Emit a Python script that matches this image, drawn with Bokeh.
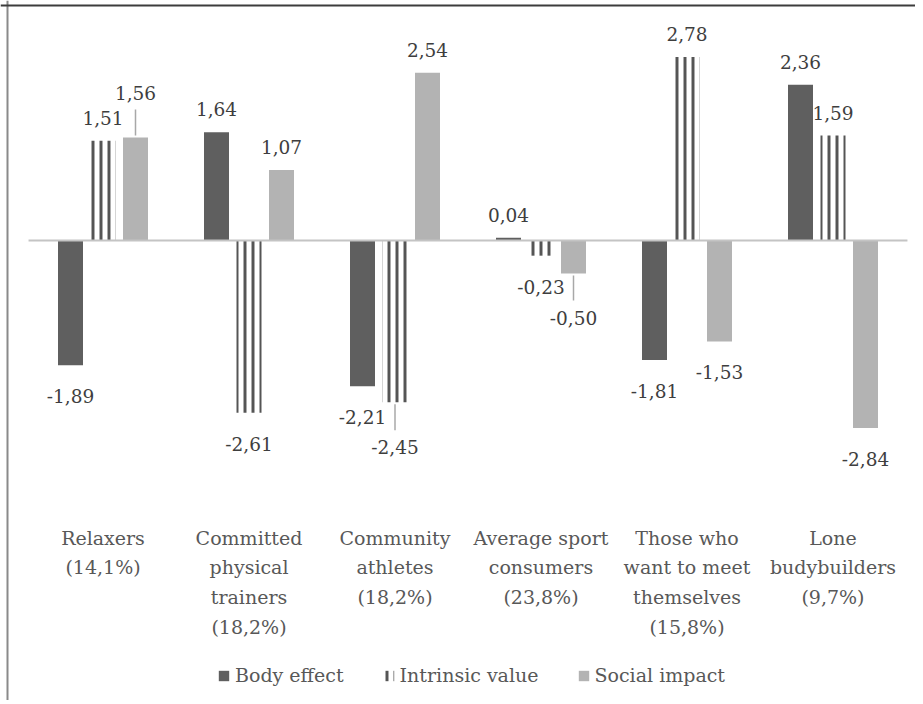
from bokeh.plotting import figure
from bokeh.models import Range1d, ColumnDataSource, Legend, LegendItem, Span
from bokeh.transform import dodge
from bokeh.core.properties import value
from bokeh.embed import file_html
from bokeh.resources import INLINE

# ---------------- data ----------------
categories = [
    "Relaxers",
    "Committed physical trainers",
    "Community athletes",
    "Average sport consumers",
    "Those who want to meet themselves",
    "Lone budybuilders",
]
category_labels = [
    "Relaxers\n(14,1%)",
    "Committed\nphysical\ntrainers\n(18,2%)",
    "Community\nathletes\n(18,2%)",
    "Average sport\nconsumers\n(23,8%)",
    "Those who\nwant to meet\nthemselves\n(15,8%)",
    "Lone\nbudybuilders\n(9,7%)",
]
series_names = ["Body effect", "Intrinsic value", "Social impact"]
body_effect = [-1.89, 1.64, -2.21, 0.04, -1.81, 2.36]
intrinsic_value = [1.51, -2.61, -2.45, -0.23, 2.78, 1.59]
social_impact = [1.56, 1.07, 2.54, -0.50, -1.53, -2.84]

# ---------------- layout ----------------
W, H = 915, 700
PX_X = 146.0      # pixels per category
PX_Y = 66.0       # pixels per unit
ZERO_Y = 240.0    # zero line, px from top of canvas
FIRST_X = 102.5   # centre of first group, px from left
x_start = -FIRST_X / PX_X
x_end = x_start + W / PX_X
y_end = ZERO_Y / PX_Y
y_start = y_end - H / PX_Y

FONT_NAME = "DejaVu Serif"
FONT = value(FONT_NAME)

p = figure(width=W, height=H,
           x_range=Range1d(x_start, x_end), y_range=Range1d(y_start, y_end),
           output_backend="svg", toolbar_location=None,
           x_axis_type=None, y_axis_type=None, min_border=0,
           outline_line_color=None, background_fill_color="white",
           border_fill_color="white")

idx = list(range(len(categories)))
BAR_W = 25 / PX_X
STEP = 32.5 / PX_X
offsets = [-STEP, 0.0, STEP]

src = ColumnDataSource(dict(x=idx, body=body_effect,
                            intrinsic=intrinsic_value, social=social_impact))

r_body = p.vbar(x=dodge("x", offsets[0]), top="body", bottom=0, width=BAR_W,
                source=src, fill_color="#5f5f5f", line_color=None)
r_intr = p.vbar(x=dodge("x", offsets[1]), top="intrinsic", bottom=0, width=BAR_W,
                source=src, fill_color="white", line_color=None,
                hatch_pattern="vertical_line", hatch_color="#555555",
                hatch_weight=3, hatch_scale=8)
r_soc = p.vbar(x=dodge("x", offsets[2]), top="social", bottom=0, width=BAR_W,
               source=src, fill_color="#b3b3b3", line_color=None)

# zero line
p.segment(x0=[idx[0] - 0.51], y0=[0], x1=[idx[-1] + 0.51], y1=[0],
          line_color="#c4c4c4", line_width=2)

# ---------------- data labels ----------------
series = [body_effect, intrinsic_value, social_impact]
special = {(0, 2): 45, (2, 1): 45, (3, 2): 44}   # labels moved away with leader lines
lx, ly, lt, lyo = [], [], [], []
sx0, sy0, sy1 = [], [], []
for si, vals in enumerate(series):
    for i, v in enumerate(vals):
        x = i + offsets[si]
        pos = v >= 0
        d = special.get((i, si), 23 if pos else 31)
        lx.append(x)
        ly.append(v)
        lt.append(f"{v:.2f}".replace(".", ","))
        lyo.append(-d if pos else d)
        if (i, si) in special:
            sgn = 1 if pos else -1
            sx0.append(x)
            sy0.append(v + sgn * 2 / PX_Y)
            sy1.append(v + sgn * (d - 17) / PX_Y)

lab_src = ColumnDataSource(dict(x=lx, y=ly, t=lt, yo=lyo))
p.segment(x0=sx0, y0=sy0, x1=sx0, y1=sy1, line_color="#a8a8a8", line_width=1.5)
p.text(x="x", y="y", text="t", y_offset="yo", source=lab_src,
       text_align="center", text_baseline="middle", text_font=FONT,
       text_font_size="18.5px", text_color="#3e3e3e")

# ---------------- category labels ----------------
LABEL_Y = (ZERO_Y - 526) / PX_Y
p.text(x=idx, y=[LABEL_Y] * len(idx), text=category_labels,
       text_align="center", text_baseline="top", text_line_height=1.36,
       text_font=FONT, text_font_size="19px", text_color="#585858")

# ---------------- border (left / top) ----------------
p.add_layout(Span(location=x_start + 7 / PX_X, dimension="height",
                  line_color="#8a8a8a", line_width=2))
p.add_layout(Span(location=y_end - 5 / PX_Y, dimension="width",
                  line_color="#3c3c3c", line_width=2))

# ---------------- legend ----------------
legend = Legend(items=[LegendItem(label=n, renderers=[r])
                       for n, r in zip(series_names, [r_body, r_intr, r_soc])],
                orientation="horizontal", location=(217, 14),
                label_text_font=FONT_NAME, label_text_font_size="19px",
                label_text_color="#585858", glyph_width=13, glyph_height=13,
                spacing=38, label_standoff=5, padding=0, margin=0,
                border_line_color=None, background_fill_alpha=0)
p.add_layout(legend)

open("out.html", "w").write(file_html(p, INLINE))
